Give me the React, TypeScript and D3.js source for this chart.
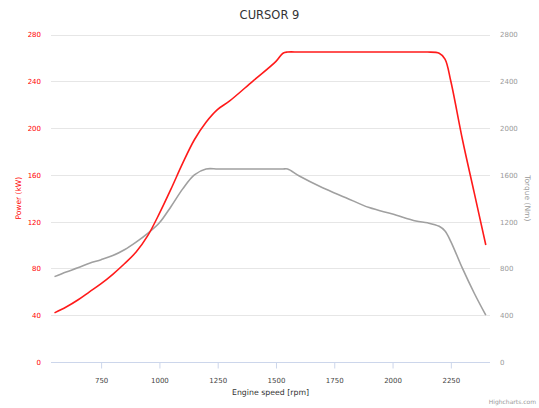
import { useRef, useEffect } from 'react'
import * as d3 from 'd3'

// engine speed (rpm) for each reading
const rpm = [550, 600, 650, 700, 750, 800, 850, 900, 950, 1000, 1050, 1100, 1150, 1200, 1250, 1300, 1400, 1500, 1530, 1550, 1600, 1700, 1800, 1900, 2000, 2100, 2150, 2200, 2225, 2250, 2300, 2350, 2400]
// power (kW)
const power = [42, 47, 53, 60, 67, 75, 84, 94, 108, 127, 148, 170, 190, 205, 216, 223, 240, 257, 264, 265, 265, 265, 265, 265, 265, 265, 265, 264, 259, 240, 190, 145, 100]
// torque (Nm)
const torque = [730, 770, 805, 845, 875, 910, 960, 1025, 1100, 1190, 1330, 1480, 1600, 1650, 1650, 1650, 1650, 1650, 1650, 1650, 1590, 1490, 1405, 1320, 1265, 1205, 1190, 1160, 1120, 1030, 800, 590, 400]

const xTicks = [750, 1000, 1250, 1500, 1750, 2000, 2250]
const powerTicks = [0, 40, 80, 120, 160, 200, 240, 280]
const torqueTicks = [0, 400, 800, 1200, 1600, 2000, 2400, 2800]

function App() {
  const ref = useRef<SVGSVGElement>(null)

  useEffect(() => {
    const width = 539, height = 408
    const margin = { top: 34.5, right: 49, bottom: 46, left: 51 }
    const font = 'DejaVu Sans, sans-serif'

    const svg = d3.select(ref.current)
    svg.selectAll('*').remove()

    const x = d3.scaleLinear().domain([535, 2418]).range([margin.left, width - margin.right])
    const yP = d3.scaleLinear().domain([0, 280]).range([height - margin.bottom, margin.top])
    const yT = d3.scaleLinear().domain([0, 2800]).range([height - margin.bottom, margin.top])

    // grid
    svg.append('g')
      .selectAll('line')
      .data(powerTicks.slice(1))
      .enter()
      .append('line')
      .attr('x1', margin.left)
      .attr('x2', width - margin.right)
      .attr('y1', d => Math.round(yP(d)) + 0.5)
      .attr('y2', d => Math.round(yP(d)) + 0.5)
      .attr('stroke', '#e6e6e6')

    // x axis
    const xAxis = svg.append('g')
      .attr('transform', `translate(0,${Math.round(yP(0)) + 0.5})`)
      .call(d3.axisBottom(x).tickValues(xTicks).tickSize(6).tickPadding(10).tickFormat(d3.format('d')))
    xAxis.select('.domain').attr('stroke', '#ccd6eb').attr('d', `M${margin.left},0H${width - margin.right}`)
    xAxis.selectAll('.tick line').attr('stroke', '#ccd6eb')
    xAxis.selectAll('.tick text').attr('fill', '#444').style('font', `7px ${font}`)

    // left axis (power)
    const left = svg.append('g')
      .attr('transform', `translate(${margin.left - 10},0)`)
      .call(d3.axisLeft(yP).tickValues(powerTicks).tickSize(0).tickPadding(0).tickFormat(d3.format('d')))
    left.select('.domain').remove()
    left.selectAll('.tick text').attr('fill', '#ff0000').attr('dy', '0.35em').style('font', `7px ${font}`)

    // right axis (torque)
    const right = svg.append('g')
      .attr('transform', `translate(${width - margin.right + 10},0)`)
      .call(d3.axisRight(yT).tickValues(torqueTicks).tickSize(0).tickPadding(0).tickFormat(d3.format('d')))
    right.select('.domain').remove()
    right.selectAll('.tick text').attr('fill', '#999').attr('dy', '0.35em').style('font', `7px ${font}`)

    const idx = d3.range(rpm.length)

    svg.append('path')
      .datum(idx)
      .attr('fill', 'none')
      .attr('stroke', '#a0a0a0')
      .attr('stroke-width', 1.6)
      .attr('d', d3.line<number>().x(i => x(rpm[i])).y(i => yT(torque[i])).curve(d3.curveCatmullRom.alpha(0.5)))

    svg.append('path')
      .datum(idx)
      .attr('fill', 'none')
      .attr('stroke', '#ff1a1a')
      .attr('stroke-width', 1.6)
      .attr('d', d3.line<number>().x(i => x(rpm[i])).y(i => yP(power[i])).curve(d3.curveCatmullRom.alpha(0.5)))

    // titles
    svg.append('text')
      .attr('x', width / 2)
      .attr('y', 19)
      .attr('text-anchor', 'middle')
      .attr('fill', '#333')
      .style('font', `11.5px ${font}`)
      .text('CURSOR 9')

    svg.append('text')
      .attr('transform', `translate(21,${(margin.top + height - margin.bottom) / 2}) rotate(-90)`)
      .attr('text-anchor', 'middle')
      .attr('fill', '#ff0000')
      .style('font', `7.5px ${font}`)
      .text('Power (kW)')

    svg.append('text')
      .attr('transform', `translate(525,${(margin.top + height - margin.bottom) / 2}) rotate(90)`)
      .attr('text-anchor', 'middle')
      .attr('fill', '#999')
      .style('font', `7.5px ${font}`)
      .text('Torque (Nm)')

    svg.append('text')
      .attr('x', (margin.left + width - margin.right) / 2)
      .attr('y', 395)
      .attr('text-anchor', 'middle')
      .attr('fill', '#333')
      .style('font', `7.8px ${font}`)
      .text('Engine speed [rpm]')

    svg.append('text')
      .attr('x', 536)
      .attr('y', 404)
      .attr('text-anchor', 'end')
      .attr('fill', '#999')
      .style('font', `6px ${font}`)
      .text('Highcharts.com')
  }, [])

  return (
    <div style={{ position: 'absolute', left: 0, top: 0 }}>
      <svg ref={ref} width={539} height={408} style={{ display: 'block', background: '#fff' }}></svg>
    </div>
  )
}

export default App
